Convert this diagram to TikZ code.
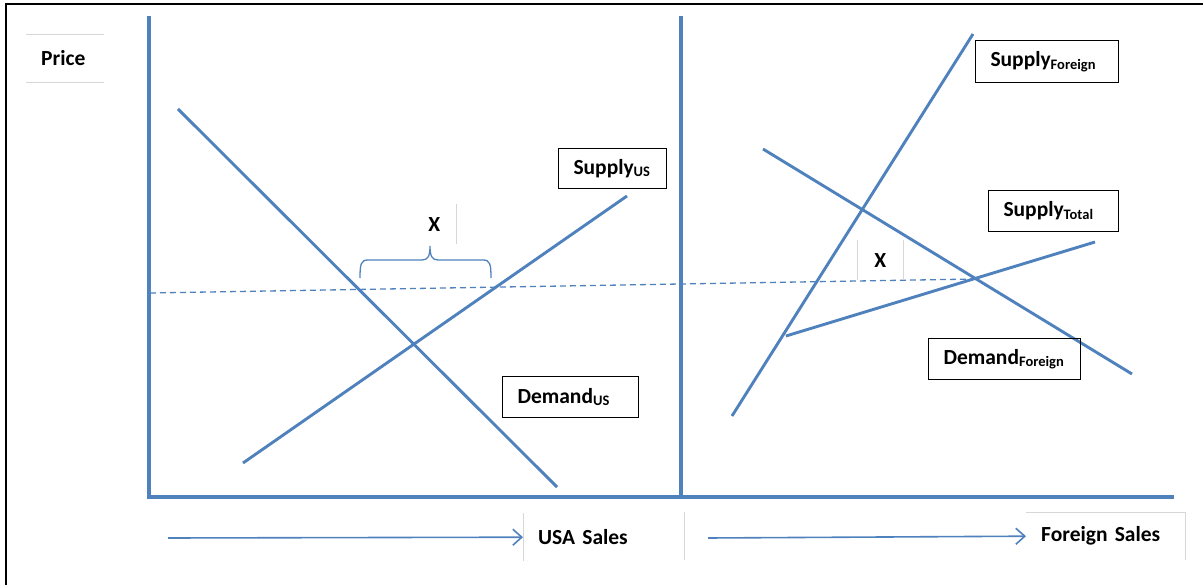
\documentclass[tikz,border=0pt]{standalone}
\usepackage{fontspec}
\setmainfont{Carlito}
\usetikzlibrary{arrows.meta}
\definecolor{lineblue}{RGB}{79,129,189}
\definecolor{faint}{RGB}{215,215,215}
\tikzset{
  curve/.style={draw=lineblue, line width=2.9pt},
  axis/.style={draw=lineblue, line width=3.8pt},
  lbl/.style={draw=black, line width=1pt, font=\bfseries\fontsize{21.5}{24}\selectfont, inner xsep=15pt, inner ysep=0pt, anchor=north west, align=left},
  faintbox/.style={draw=none, font=\bfseries\fontsize{21.5}{24}\selectfont, inner xsep=15pt, inner ysep=0pt, anchor=north west, align=left},
  salesarrow/.style={draw=lineblue, line width=1.6pt, -{Straight Barb[length=9pt,width=16pt,line width=1.6pt]}},
}
\newcommand{\sub}[1]{\raisebox{-2.5pt}{\fontsize{14.5}{15}\selectfont #1}}
\begin{document}
\begin{tikzpicture}[x=1pt,y=-1pt]
\useasboundingbox (0,0) rectangle (1203,585);
% outer frame
\draw[line width=1.8pt, black] (6,585) -- (6,4) -- (1203,4);
% axes
\coordinate (ytop) at (149,16);
\coordinate (origin) at (149,497);
\coordinate (mtop) at (681,16);
\coordinate (mbot) at (681,497);
\coordinate (xend) at (1174,497);
\draw[axis] (ytop) -- (origin);
\draw[axis] (mtop) -- (mbot);
\draw[axis] (147,497) -- (xend);
% price label
\node[faintbox, text width=48pt, minimum height=48pt] (price) at (26,34) {Price};
\draw[faint, line width=0.8pt] (price.north west) -- (price.north east);
\draw[faint, line width=0.8pt] (price.south west) -- (price.south east);
% US curves
\coordinate (dus1) at (178,109);
\coordinate (dus2) at (557,487);
\coordinate (sus1) at (243,463);
\coordinate (sus2) at (627,196);
\draw[curve] (dus1) -- (dus2);
\draw[curve] (sus1) -- (sus2);
% Foreign curves
\coordinate (sf1) at (732,416);
\coordinate (sf2) at (973,34);
\coordinate (df1) at (763,149);
\coordinate (df2) at (1132,374);
\coordinate (st1) at (786,336);
\coordinate (st2) at (1095,242);
\draw[curve] (sf1) -- (sf2);
\draw[curve] (df1) -- (df2);
\draw[curve] (st1) -- (st2);
% dashed price line
\coordinate (dl1) at (150,293);
\coordinate (dl2) at (975,279);
\draw[lineblue, line width=1.3pt, dash pattern=on 6pt off 4pt] (dl1) -- (dl2);
% brace
\coordinate (brL) at (360,278);
\coordinate (brR) at (491,278);
\coordinate (brM) at (430,246);
\draw[lineblue, line width=1.3pt]
  (brL) .. controls (360,264) and (361,260) .. (368,260)
  -- (422,260) .. controls (428,260) and (430,256) .. (brM)
  .. controls (430,256) and (432,260) .. (438,260)
  -- (483,260) .. controls (490,260) and (491,264) .. (brR);
% X labels
\node[faintbox, inner xsep=0pt, align=center, minimum width=44pt, minimum height=40pt] (xus) at (412,204) {X};
\draw[faint, line width=0.6pt] (xus.north east) -- (xus.south east);
\node[faintbox, inner xsep=0pt, align=center, minimum width=46pt, minimum height=40pt] (xf) at (857,240) {X};
\draw[faint, line width=0.6pt] (xf.north west) -- (xf.south west);
\draw[faint, line width=0.6pt] (xf.north east) -- (xf.south east);
% curve labels
\node[lbl, text width=78pt, minimum height=40pt] (lsus) at (558,148) {Supply\sub{US}};
\node[lbl, text width=106pt, minimum height=41pt] (ldus) at (502,376) {Demand\sub{US}};
\node[lbl, text width=113pt, minimum height=42pt] (lsf) at (975,40) {Supply\sub{Foreign}};
\node[lbl, text width=100pt, minimum height=41pt] (lst) at (988,190) {Supply\sub{Total}};
\node[lbl, text width=122pt, minimum height=41pt] (ldf) at (928,338) {Demand\sub{Foreign}};
% sales labels
\node[faintbox, text width=90pt, minimum height=48pt] (usa) at (523,513) {USA Sales};
\draw[faint, line width=0.8pt] (usa.north west) -- (usa.south west);
\node[faintbox, text width=129pt, minimum height=48pt] (fs) at (1026,512) {Foreign Sales};
\draw[faint, line width=0.8pt] (fs.north east) -- (fs.south east);
\draw[faint, line width=0.5pt] (fs.north west) -- (fs.north east);
\draw[faint, line width=0.6pt] (684,512) -- (684,560);
\coordinate (ua1) at (168,538);
\coordinate (fa1) at (708,538);
\draw[salesarrow] (ua1) -- (usa.west);
\draw[salesarrow] (fa1) -- (fs.west);
\end{tikzpicture}
\end{document}
